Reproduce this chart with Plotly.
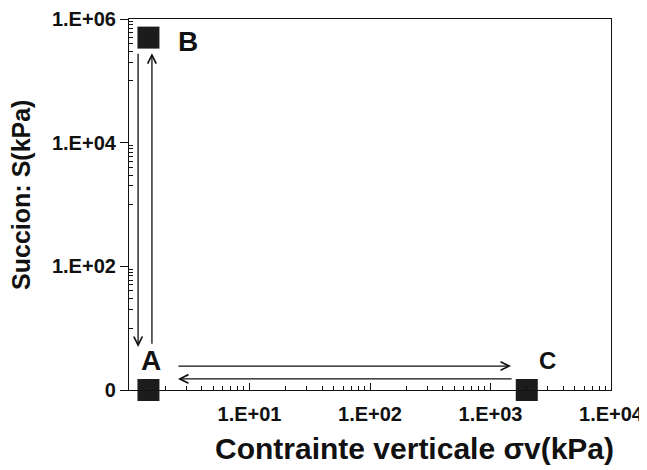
import numpy as np
import plotly.graph_objects as go

# points du chemin de contraintes (kPa)
POINT_NAMES = ["A", "B", "C"]
SIGMA_V = [1.45, 1.45, 2000]
SUCTION = [1, 5.0e5, 1]

# positions des lettres
LABEL_X = [1.52, 3.1, 3000]
LABEL_Y = [2.95, 4.4e5, 3.05]
LABEL_SIZE = [28, 28, 24]

# fleches : (x depart, y depart, x arrivee, y arrivee)
ARROW_X0 = [1.19, 1.55, 2.5, 1540]
ARROW_Y0 = [2.9e5, 5.3, 2.44, 1.51]
ARROW_X1 = [1.19, 1.55, 1480, 2.55]
ARROW_Y1 = [4.96, 2.8e5, 2.44, 1.51]

# graduations
X_TICKS = [1, 10, 100, 1000, 10000]
X_TICKTEXT = ["", "1.E+01", "1.E+02", "1.E+03", "1.E+04"]
X_MINOR = [m * 10 ** e for e in range(0, 4) for m in range(2, 10)]
Y_TICKS = [1, 1e2, 1e4, 1e6]
Y_TICKTEXT = ["0", "1.E+02", "1.E+04", "1.E+06"]
Y_MINOR = [m * 10 ** e for e in (1, 3, 5) for m in range(1, 10)]

FONT = "Arial, Liberation Sans, sans-serif"
INK = "#111111"

fig = go.Figure()

fig.add_trace(go.Scatter(
    x=SIGMA_V, y=SUCTION, mode="markers",
    marker=dict(symbol="square", size=22, color="#1c1c1c", line=dict(width=0)),
    cliponaxis=False, showlegend=False,
))

for name, lx, ly, sz in zip(POINT_NAMES, LABEL_X, LABEL_Y, LABEL_SIZE):
    fig.add_annotation(
        x=np.log10(lx), y=np.log10(ly), text=name, showarrow=False,
        font=dict(family=FONT, size=sz, color=INK, weight="bold"),
    )

for x0, y0, x1, y1 in zip(ARROW_X0, ARROW_Y0, ARROW_X1, ARROW_Y1):
    fig.add_annotation(
        x=np.log10(x1), y=np.log10(y1), ax=np.log10(x0), ay=np.log10(y0),
        xref="x", yref="y", axref="x", ayref="y", text="",
        showarrow=True, arrowhead=5, arrowsize=1.3, arrowwidth=1.3, arrowcolor=INK,
    )

# titres des axes, places comme dans l'original
fig.add_annotation(
    xref="paper", yref="paper", x=0.593, y=-0.157, yanchor="middle",
    text="Contrainte verticale σv(kPa)", showarrow=False,
    font=dict(family=FONT, size=30, color=INK, weight="bold"),
)
fig.add_annotation(
    xref="paper", yref="paper", x=-0.224, y=0.526, xanchor="center", yanchor="middle",
    text="Succion: S(kPa)", textangle=-90, showarrow=False,
    font=dict(family=FONT, size=25, color=INK, weight="bold"),
)

fig.update_xaxes(
    type="log", range=[0, 4],
    tickvals=X_TICKS, ticktext=X_TICKTEXT,
    ticks="inside", ticklen=7, tickwidth=1.3, tickcolor=INK,
    minor=dict(tickmode="array", tickvals=X_MINOR, ticks="inside", ticklen=4, tickwidth=1.3,
               tickcolor=INK, showgrid=False),
    showline=True, linecolor=INK, linewidth=1.2, mirror=True,
    showgrid=False, zeroline=False, automargin=False,
    ticklabelstandoff=6,
    tickfont=dict(family=FONT, size=20, color=INK, weight="bold"),
)

fig.update_yaxes(
    type="log", range=[0, 6],
    tickvals=Y_TICKS, ticktext=Y_TICKTEXT,
    ticks="outside", ticklen=8, tickwidth=1.3, tickcolor=INK,
    minor=dict(tickmode="array", tickvals=Y_MINOR, ticks="inside", ticklen=4, tickwidth=1.3,
               tickcolor=INK, showgrid=False),
    showline=True, linecolor=INK, linewidth=1.2, mirror=True,
    showgrid=False, zeroline=False, automargin=False,
    ticklabelstandoff=0,
    tickfont=dict(family=FONT, size=20, color=INK, weight="bold"),
)

# la page ajoute 8 px de marge autour du graphique
fig.update_layout(
    width=639, height=462,
    margin=dict(l=121, r=36, t=11, b=80),
    plot_bgcolor="white", paper_bgcolor="white",
    showlegend=False,
)

fig.write_html("out.html")
